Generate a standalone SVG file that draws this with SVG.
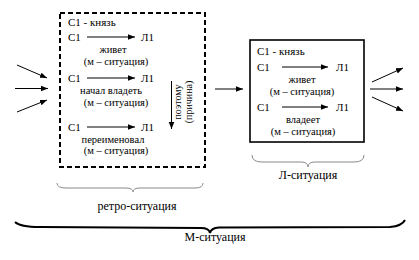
<svg xmlns="http://www.w3.org/2000/svg" width="419" height="260" viewBox="0 0 419 260">
<style>
text{font-family:"Liberation Serif","DejaVu Serif","Times New Roman",serif;fill:#000;font-size:11px}
.c{text-anchor:middle;font-size:10.5px}
.lbl{font-size:12px;text-anchor:middle}
.rot{font-size:10px;text-anchor:middle}
.ar{stroke:#000;stroke-width:1;fill:none;marker-end:url(#ah)}
.br{fill:none;stroke:#8a8a8a;stroke-width:1}
.brm{fill:none;stroke:#000;stroke-width:2}
</style>
<defs>
<marker id="ah" viewBox="0 0 10 10" refX="10" refY="5" markerWidth="7" markerHeight="7" markerUnits="userSpaceOnUse" orient="auto">
<path d="M0,1 L10,5 L0,9 Z" fill="#000"/>
</marker>
</defs>
<rect width="419" height="260" fill="#fff"/>

<g id="retro">
<rect x="60" y="13" width="145" height="154" fill="none" stroke="#000" stroke-width="2" stroke-dasharray="5,3"/>
<text x="68" y="26">С1 - князь</text>
<text x="68" y="41">С1</text>
<text x="141" y="41">Л1</text>
<text class="c" x="113" y="53">живет</text>
<text class="c" x="116" y="64.7">(м – ситуация)</text>
<text x="68" y="82">С1</text>
<text x="141" y="82">Л1</text>
<text class="c" x="111" y="94">начал владеть</text>
<text class="c" x="116" y="105.7">(м – ситуация)</text>
<text x="68" y="130.5">С1</text>
<text x="141" y="130.5">Л1</text>
<text class="c" x="113" y="142.5">переименовал</text>
<text class="c" x="116" y="154.2">(м – ситуация)</text>
<text class="rot" transform="translate(180.5,102) rotate(-90)">поэтому</text>
<text class="rot" transform="translate(192,102) rotate(-90)">(причина)</text>
</g>

<g id="l-situation">
<rect x="250" y="40" width="114" height="102" fill="none" stroke="#000" stroke-width="1.6"/>
<text x="257" y="55">С1 - князь</text>
<text x="257" y="71">С1</text>
<text x="336" y="71">Л1</text>
<text class="c" x="302" y="83">живет</text>
<text class="c" x="302" y="94.7">(м – ситуация)</text>
<text x="257" y="111">С1</text>
<text x="336" y="111">Л1</text>
<text class="c" x="303" y="123">владеет</text>
<text class="c" x="303" y="134.7">(м – ситуация)</text>
</g>

<g id="connectors">
<line class="ar" x1="17" y1="65" x2="47" y2="78"/>
<line class="ar" x1="15" y1="88.5" x2="48" y2="88.5"/>
<line class="ar" x1="17" y1="112" x2="47" y2="100"/>
<line class="ar" x1="87" y1="37" x2="135" y2="37"/>
<line class="ar" x1="87" y1="78" x2="135" y2="78"/>
<line class="ar" x1="87" y1="127" x2="135" y2="127"/>
<line class="ar" x1="171.5" y1="81" x2="171.5" y2="129"/>
<line class="ar" x1="215" y1="89" x2="243" y2="89"/>
<line class="ar" x1="282" y1="67" x2="328" y2="67"/>
<line class="ar" x1="282" y1="107" x2="328" y2="107"/>
<line class="ar" x1="372" y1="82" x2="403" y2="68"/>
<line class="ar" x1="370" y1="89" x2="403" y2="89"/>
<line class="ar" x1="372" y1="97" x2="403" y2="111"/>
</g>

<g id="brace-retro">
<path class="br" d="M57,183 Q57,188 66,188 L126,188 Q133,188 133,192 Q133,188 140,188 L195,188 Q203,188 203,183"/>
<text class="lbl" x="137" y="210">ретро-ситуация</text>
</g>
<g id="brace-l">
<path class="br" d="M252,155 Q252,162 262,162 L301,162 Q308,162 308,167 Q308,162 315,162 L354,162 Q364,162 364,155"/>
<text class="lbl" x="308" y="179">Л-ситуация</text>
</g>
<g id="brace-m">
<path class="brm" d="M15,222 Q20,227 40,227 L201,228 Q209,228 210,233 Q211,228 219,227.5 L390,227 Q402,226 405,220"/>
<text class="lbl" x="215" y="241">М-ситуация</text>
</g>
</svg>
